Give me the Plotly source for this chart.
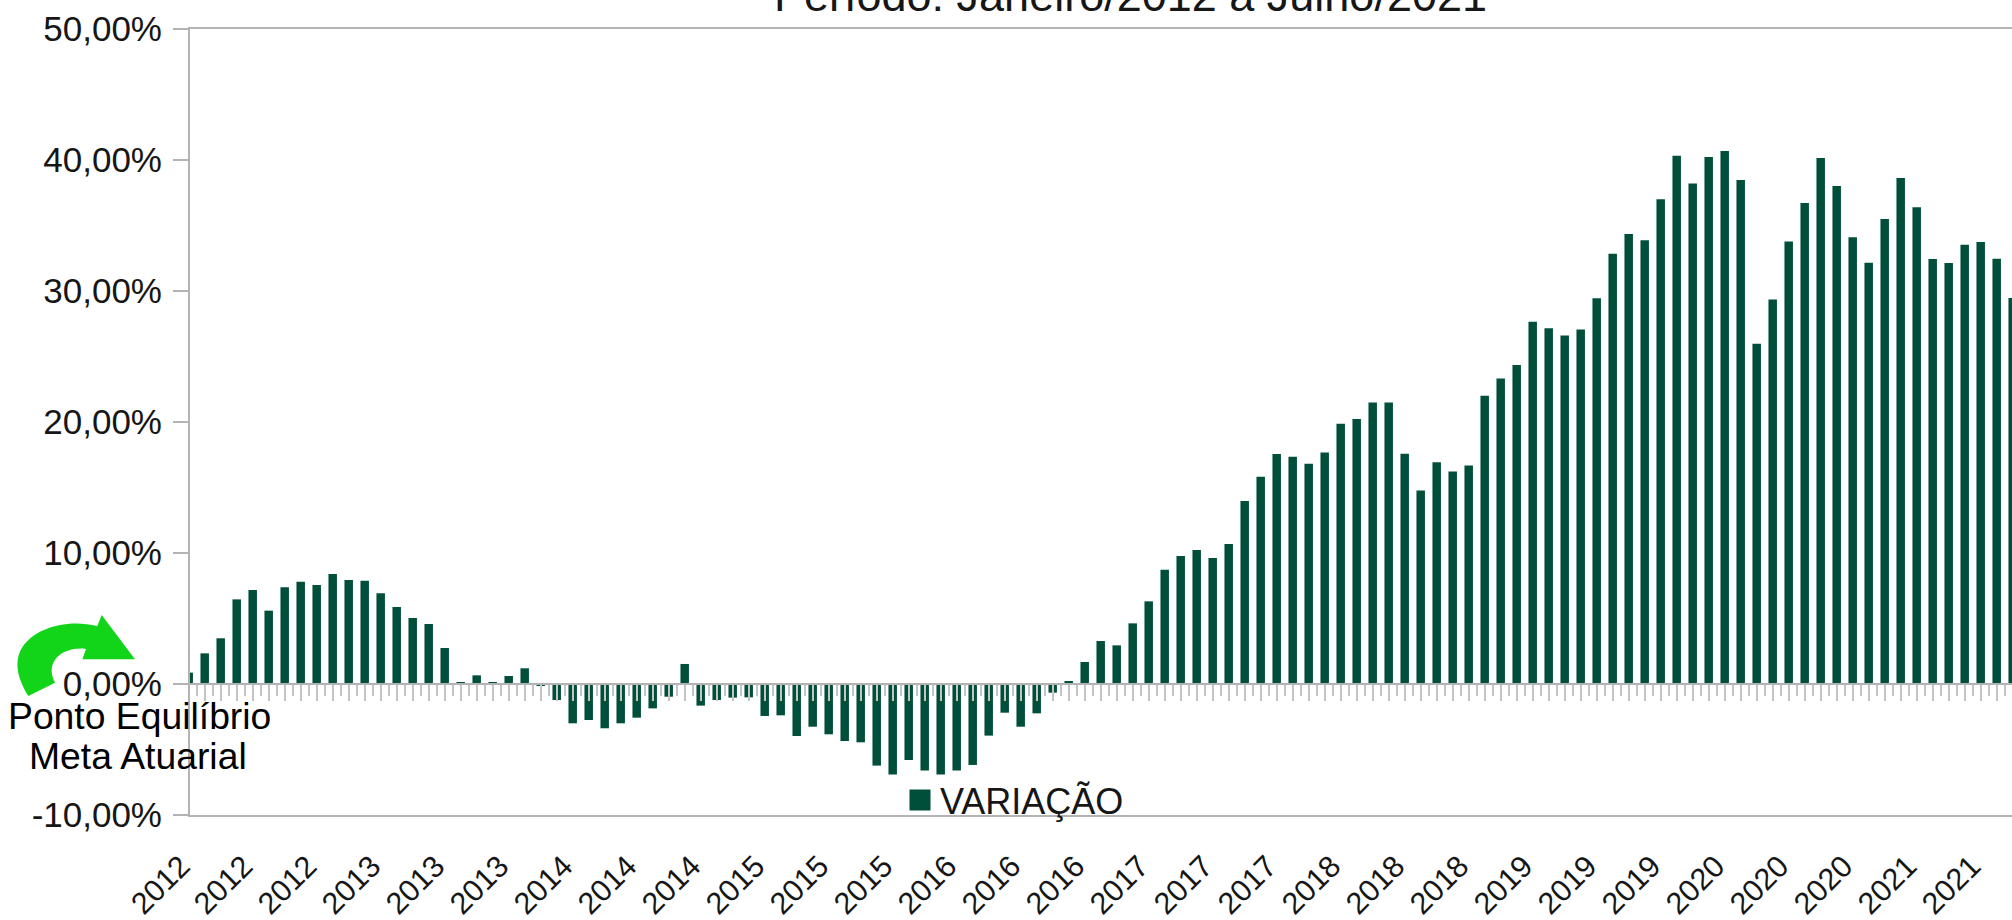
import plotly.graph_objects as go

variacao = [0.87, 2.34, 3.49, 6.46, 7.18, 5.6, 7.38, 7.81, 7.56, 8.4, 7.94, 7.89,
            6.92, 5.88, 5.04, 4.58, 2.75, 0.1, 0.66, 0.1, 0.61, 1.2, -0.1, -1.22,
            -3.0, -2.75, -3.38, -3.0, -2.57, -1.86, -0.97, 1.53, -1.65, -1.22, -1.04, -1.02,
            -2.44, -2.39, -3.97, -3.26, -3.84, -4.35, -4.45, -6.23, -6.9, -5.8, -6.6, -6.9,
            -6.6, -6.18, -3.94, -2.19, -3.26, -2.24, -0.66, 0.23, 1.68, 3.28, 2.95, 4.63,
            6.31, 8.73, 9.77, 10.23, 9.62, 10.69, 13.97, 15.83, 17.56, 17.35, 16.82, 17.68,
            19.87, 20.23, 21.48, 21.48, 17.58, 14.78, 16.92, 16.23, 16.67, 22.0, 23.33, 24.35,
            27.66, 27.15, 26.6, 27.07, 29.44, 32.85, 34.35, 33.87, 37.0, 40.33, 38.2, 40.23,
            40.69, 38.47, 25.98, 29.36, 33.77, 36.72, 40.15, 38.02, 34.1, 32.16, 35.5, 38.63,
            36.39, 32.44, 32.14, 33.53, 33.74, 32.47, 29.47]
rotulos_x = ["2012", "2012", "2012", "2013", "2013", "2013", "2014", "2014", "2014", "2015",
             "2015", "2015", "2016", "2016", "2016", "2017", "2017", "2017", "2018", "2018",
             "2018", "2019", "2019", "2019", "2020", "2020", "2020", "2021", "2021"]
valores_y = [-10, 0, 10, 20, 30, 40, 50]
rotulos_y = ["-10,00%", "0,00%", "10,00%", "20,00%", "30,00%", "40,00%", "50,00%"]

FONT = "Liberation Sans, Arial, sans-serif"
TXT = "#161616"
GRAY = "#b3b3b3"
GREEN = "#004f3b"
L, R, T, B = 190, 2012, 29, 815
STEP, X0 = 16.0, 188.7
xr = [(L - X0) / STEP, (R - X0) / STEP]


def px(x):
    return (x - L) / (R - L)


def py(y):
    return (B - y) / (B - T)


def P(zx, zy):
    return f"{px(zx / 3):.5f},{py(540 + zy / 3):.5f}"


arrow = ("M" + P(85, 468)
         + " C" + P(55, 420) + " " + P(40, 370) + " " + P(65, 325)
         + " C" + P(100, 265) + " " + P(200, 235) + " " + P(292, 258)
         + " L" + P(305, 225) + " L" + P(405, 358) + " L" + P(247, 358) + " L" + P(258, 327)
         + " C" + P(195, 318) + " " + P(130, 360) + " " + P(165, 428) + " Z")

fig = go.Figure()
fig.add_bar(x=list(range(len(variacao))), y=variacao, name="VARIAÇÃO",
            marker=dict(color=GREEN, line=dict(width=0)), width=0.53, showlegend=False)
fig.add_scatter(x=[None], y=[None], name="VARIAÇÃO", mode="markers",
                marker=dict(symbol="square", size=16, color=GREEN, line=dict(color=GREEN, width=5)),
                showlegend=True, hoverinfo="skip")
fig.add_scatter(x=[0], y=[0], xaxis="x2", mode="markers", marker=dict(opacity=0),
                showlegend=False, hoverinfo="skip")

tickpos = [max(i * 4, xr[0]) for i in range(len(rotulos_x))]
fig.update_layout(
    width=2012, height=920,
    margin=dict(l=L, r=0, t=T, b=920 - B, autoexpand=False),
    paper_bgcolor="white", plot_bgcolor="white",
    font=dict(family=FONT, color=TXT, size=33),
    title=dict(text="Período: Janeiro/2012 a Julho/2021", x=(775 + 1486) / 2 / 2012, xanchor="center",
               y=1 - 11 / 920, yanchor="bottom", automargin=False,
               font=dict(family=FONT, size=45, color=TXT)),
    xaxis=dict(range=xr, tickmode="array", tickvals=tickpos, ticktext=rotulos_x, tickangle=-45,
               showline=True, linecolor=GRAY, linewidth=2, mirror=True, showgrid=False, zeroline=False,
               ticks="", ticklabelstandoff=19, ticklabelshift=-9, tickfont=dict(size=30.5, color=TXT)),
    xaxis2=dict(range=xr, overlaying="x", anchor="free", position=10 / 60, side="bottom",
                showline=True, linecolor=GRAY, linewidth=2, showgrid=False, zeroline=False,
                showticklabels=False, tickmode="linear", tick0=1, dtick=1,
                ticks="outside", ticklen=16, tickwidth=2, tickcolor="#c4c4c4",
                minor=dict(tickmode="linear", tick0=0.5, dtick=1, ticks="outside", ticklen=11,
                           tickwidth=2, tickcolor="#c4c4c4")),
    yaxis=dict(range=[-10, 50], tickmode="array", tickvals=valores_y, ticktext=rotulos_y,
               showline=True, linecolor=GRAY, linewidth=2, showgrid=False, zeroline=False,
               ticks="outside", ticklen=15, tickwidth=2, tickcolor=GRAY, ticklabelstandoff=4,
               tickfont=dict(size=35, color=TXT)),
    legend=dict(x=px(900), y=py(800), xanchor="left", yanchor="middle", bgcolor="rgba(0,0,0,0)",
                font=dict(size=36, color=TXT), itemwidth=30, itemsizing="trace"),
    shapes=[dict(type="path", xref="paper", yref="paper", path=arrow,
                 fillcolor="#12d418", line=dict(width=0), layer="above")],
    annotations=[
        dict(xref="paper", yref="paper", x=px(139), y=py(716), xanchor="center", yanchor="middle",
             text="Ponto Equilíbrio", showarrow=False,
             font=dict(family=FONT, size=37.3, color="#000000")),
        dict(xref="paper", yref="paper", x=px(138), y=py(756), xanchor="center", yanchor="middle",
             text="Meta Atuarial", showarrow=False,
             font=dict(family=FONT, size=37.3, color="#000000")),
    ],
)
fig.write_html("out.html", config={"displayModeBar": False},
               post_script="document.body.style.margin='0';document.body.style.overflow='hidden';")
